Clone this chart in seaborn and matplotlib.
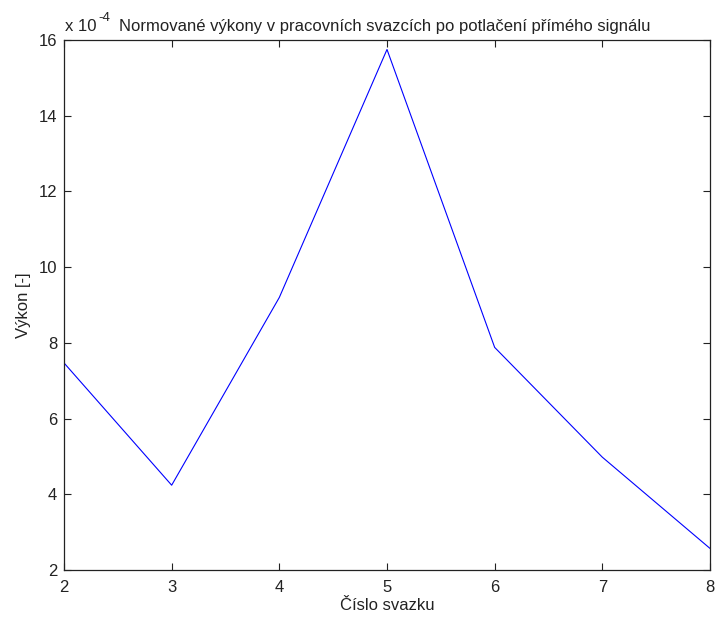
import matplotlib
matplotlib.use("Agg")
import matplotlib.pyplot as plt
import seaborn as sns
import pandas as pd
from matplotlib.ticker import FuncFormatter

# beam numbers and normalised power after direct-signal suppression
svazek = [2, 3, 4, 5, 6, 7, 8]
vykon = [7.47e-4, 4.24e-4, 9.2e-4, 15.75e-4, 7.88e-4, 4.98e-4, 2.57e-4]

x_ticks = [2, 3, 4, 5, 6, 7, 8]
y_ticks = [2e-4, 4e-4, 6e-4, 8e-4, 10e-4, 12e-4, 14e-4, 16e-4]

sns.set_theme(style="white")
plt.rcParams["font.family"] = ["Liberation Sans", "DejaVu Sans"]

df = pd.DataFrame({"svazek": svazek, "vykon": vykon})

fig = plt.figure(figsize=(7.18, 6.19), dpi=100)
ax = fig.add_axes([64 / 718, 49 / 619, 646 / 718, 530 / 619])

sns.lineplot(data=df, x="svazek", y="vykon", ax=ax, color="#0000ff", linewidth=0.8)

ax.set_xlim(2, 8)
ax.set_ylim(2e-4, 16e-4)
ax.set_xticks(x_ticks)
ax.set_yticks(y_ticks)
ax.yaxis.set_major_formatter(FuncFormatter(lambda v, p: f"{v * 1e4:.0f}"))

ax.tick_params(direction="in", length=5, width=0.8, color="#222222",
               labelsize=12, top=True, right=True, bottom=True, left=True,
               pad=5, labelcolor="#222222")
ax.tick_params(axis="x", pad=7)
for s in ax.spines.values():
    s.set_color("#222222")
    s.set_linewidth(0.9)

ax.set_xlabel("Číslo svazku", fontsize=12, color="#222222", labelpad=2)
ax.set_ylabel("Výkon [-]", fontsize=12, color="#222222", labelpad=5)

# exponent for the y-axis values, drawn like a MATLAB offset label
fig.text(65 / 718, 1 - 31 / 619, "x 10", fontsize=12, color="#222222",
         ha="left", va="baseline")
fig.text(98.5 / 718, 1 - 21 / 619, "-4", fontsize=9.5, color="#222222",
         ha="left", va="baseline")
fig.text(119 / 718, 1 - 31 / 619,
         "Normované výkony v pracovních svazcích po potlačení přímého signálu",
         fontsize=12, color="#222222", ha="left", va="baseline")

fig.savefig("out.png", dpi=100, facecolor="white")
